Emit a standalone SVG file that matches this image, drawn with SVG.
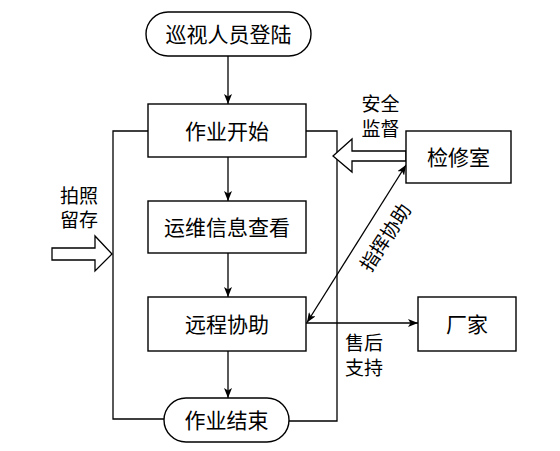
<svg xmlns="http://www.w3.org/2000/svg" width="560" height="451" viewBox="0 0 560 451">
<style>
.n{fill:#fff;stroke:#000;stroke-width:1.4}
.t{font-family:"Noto Sans CJK SC",sans-serif;font-size:21px;fill:#000;text-anchor:middle}
.l{font-family:"Noto Sans CJK SC",sans-serif;font-size:19px;fill:#000;text-anchor:middle}
.c{fill:none;stroke:#000;stroke-width:1.3}
.b{fill:#fff;stroke:#000;stroke-width:1.3;stroke-linejoin:miter}
</style>
<defs>
<marker id="ah" viewBox="0 0 10 8" refX="10" refY="4" markerWidth="10" markerHeight="8" markerUnits="userSpaceOnUse" orient="auto-start-reverse">
<path d="M0,0 L10,4 L0,8 L2.5,4 Z" fill="#000"/>
</marker>
</defs>
<rect width="560" height="451" fill="#fff"/>
<g id="connectors">
<polyline class="c" points="148,131 113,131 113,419 164,419"/>
<polyline class="c" points="306,131 337,131 337,421 289,421"/>
<line class="c" x1="228" y1="56" x2="228" y2="104" marker-end="url(#ah)"/>
<line class="c" x1="228" y1="157" x2="228" y2="201" marker-end="url(#ah)"/>
<line class="c" x1="228" y1="253" x2="228" y2="297" marker-end="url(#ah)"/>
<line class="c" x1="228" y1="351" x2="228" y2="398" marker-end="url(#ah)"/>
<line class="c" x1="306" y1="323" x2="418" y2="323" marker-end="url(#ah)"/>
<line class="c" x1="307" y1="322.5" x2="406" y2="165" marker-start="url(#ah)" marker-end="url(#ah)"/>
<polygon class="b" points="406,151 352,151 352,139 333,156 352,172 352,161 406,161"/>
<polygon class="b" points="52,248 95,248 95,236 112,254 95,271 95,260 52,260"/>
<text class="l" x="380.5" y="111">安全</text>
<text class="l" x="380.5" y="136">监督</text>
<text class="l" x="79" y="202.5">拍照</text>
<text class="l" x="79" y="227">留存</text>
<text class="l" x="364" y="349.5">售后</text>
<text class="l" x="364" y="375">支持</text>
<text class="l" x="0" y="0" dominant-baseline="central" transform="translate(384,236.5) rotate(-57)">指挥协助</text>
</g>
<g id="login">
<rect class="n" x="146" y="12" width="165" height="44" rx="22"/>
<text class="t" x="228.5" y="42">巡视人员登陆</text>
</g>
<g id="start">
<rect class="n" x="148" y="104" width="158" height="53"/>
<text class="t" x="227" y="138.5">作业开始</text>
</g>
<g id="info">
<rect class="n" x="148" y="201" width="158" height="52"/>
<text class="t" x="227" y="235">运维信息查看</text>
</g>
<g id="remote">
<rect class="n" x="148" y="297" width="158" height="54"/>
<text class="t" x="227" y="332">远程协助</text>
</g>
<g id="end">
<rect class="n" x="164" y="398" width="125" height="44" rx="22"/>
<text class="t" x="226.5" y="428">作业结束</text>
</g>
<g id="repair">
<rect class="n" x="406" y="131" width="105" height="52"/>
<text class="t" x="458.5" y="165">检修室</text>
</g>
<g id="vendor">
<rect class="n" x="418" y="297" width="98" height="54"/>
<text class="t" x="467" y="332">厂家</text>
</g>
</svg>
